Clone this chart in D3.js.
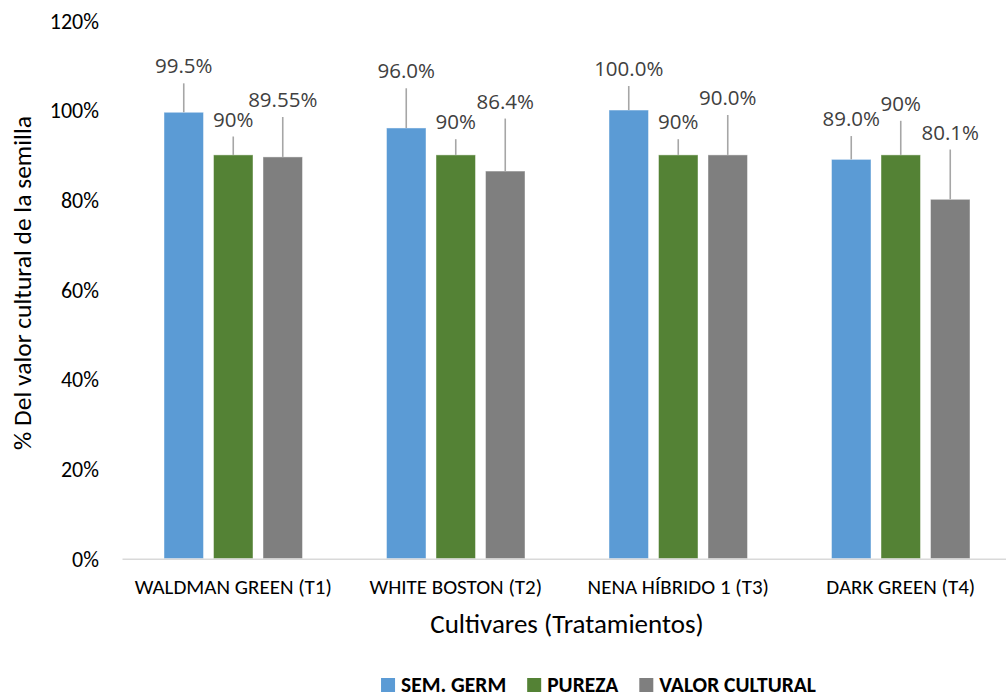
<!DOCTYPE html>
<html>
<head>
<meta charset="utf-8">
<script src="https://cdn.jsdelivr.net/npm/d3@7"></script>
<style>
  html, body { margin: 0; padding: 0; background: #fff; }
  svg { display: block; }
</style>
</head>
<body>
<svg id="chart" width="1006" height="697"></svg>
<script>
// ---- DATA ----
const categories = ["WALDMAN GREEN (T1)", "WHITE BOSTON (T2)", "NENA HÍBRIDO 1 (T3)", "DARK GREEN (T4)"];
const seriesNames = ["SEM. GERM", "PUREZA", "VALOR CULTURAL"];
const semGerm = [99.5, 96.0, 100.0, 89.0];
const pureza = [90, 90, 90, 90];
const valorCultural = [89.55, 86.4, 90.0, 80.1];
const semGermErr = [6.45, 8.85, 5.35, 5.2];
const purezaErr = [4.1, 3.5, 3.5, 7.6];
const valorCulturalErr = [8.9, 11.7, 8.9, 11.1];
const semGermLabels = ["99.5%", "96.0%", "100.0%", "89.0%"];
const purezaLabels = ["90%", "90%", "90%", "90%"];
const valorCulturalLabels = ["89.55%", "86.4%", "90.0%", "80.1%"];
const yTicks = [0, 20, 40, 60, 80, 100, 120];
const yTickLabels = ["0%", "20%", "40%", "60%", "80%", "100%", "120%"];
const colors = ["#5B9BD5", "#548235", "#7F7F7F"];

const seriesValues = [semGerm, pureza, valorCultural];
const seriesErr = [semGermErr, purezaErr, valorCulturalErr];
const seriesLabels = [semGermLabels, purezaLabels, valorCulturalLabels];

const calibri = "Carlito, Calibri, Lato, sans-serif";
const segoe = "'Segoe UI', 'Open Sans', sans-serif";

const svg = d3.select("#chart");

const plotLeft = 122, plotRight = 1012, plotTop = 20.3, plotBottom = 558.7;

const x0 = d3.scaleBand().domain(categories).range([plotLeft, plotRight]).paddingInner(0).paddingOuter(0);
const groupPad = 42;
const x1 = d3.scaleBand().domain(seriesNames)
  .range([groupPad, x0.bandwidth() - groupPad])
  .paddingInner(0.202).paddingOuter(0);
const y = d3.scaleLinear().domain([0, 120]).range([plotBottom, plotTop]);

// Y axis tick labels
const yAxis = d3.axisLeft(y).tickValues(yTicks).tickSize(0).tickPadding(0)
  .tickFormat((d, i) => yTickLabels[i]);
const yg = svg.append("g").attr("transform", `translate(99,0)`).call(yAxis);
yg.select(".domain").remove();
yg.selectAll("text").attr("font-family", calibri).attr("font-size", 22).attr("fill", "#000").attr("dy", "0.35em");

// Bars
const rows = [];
categories.forEach((c, ci) => {
  seriesNames.forEach((s, si) => {
    rows.push({cat: c, ser: s, si, v: seriesValues[si][ci], e: seriesErr[si][ci], lab: seriesLabels[si][ci]});
  });
});

const g = svg.append("g");
g.selectAll("rect.bar").data(rows).join("rect")
  .attr("class", "bar")
  .attr("x", d => x0(d.cat) + x1(d.ser))
  .attr("y", d => y(d.v))
  .attr("width", x1.bandwidth())
  .attr("height", d => y(0) - y(d.v))
  .attr("fill", d => colors[d.si])
  .attr("stroke", "#ffffff").attr("stroke-opacity", 0.45).attr("stroke-width", 1);

// X axis line
const xAxis = d3.axisBottom(x0).tickSize(0).tickFormat("");
const xg = svg.append("g").attr("transform", `translate(0,${plotBottom})`).call(xAxis);
xg.select(".domain").attr("stroke", "#d9d9d9").attr("stroke-width", 1.5);

// Error bars (plus only)
g.selectAll("line.err").data(rows).join("line")
  .attr("class", "err")
  .attr("x1", d => x0(d.cat) + x1(d.ser) + x1.bandwidth() / 2)
  .attr("x2", d => x0(d.cat) + x1(d.ser) + x1.bandwidth() / 2)
  .attr("y1", d => y(d.v))
  .attr("y2", d => y(d.v + d.e))
  .attr("stroke", "#a6a6a6").attr("stroke-width", 1.6);

// Data labels
g.selectAll("text.lab").data(rows).join("text")
  .attr("class", "lab")
  .attr("x", d => x0(d.cat) + x1(d.ser) + x1.bandwidth() / 2)
  .attr("y", d => y(d.v + d.e) - 10)
  .attr("text-anchor", "middle")
  .attr("font-family", segoe).attr("font-size", 20.5)
  .attr("fill", "#404040")
  .text(d => d.lab);

// Category labels
svg.append("g").selectAll("text").data(categories).join("text")
  .attr("x", d => x0(d) + x0.bandwidth() / 2)
  .attr("y", 594)
  .attr("text-anchor", "middle")
  .attr("font-family", calibri).attr("font-size", 21)
  .attr("fill", "#000")
  .text(d => d);

// Axis titles
svg.append("text")
  .attr("x", 567).attr("y", 633)
  .attr("text-anchor", "middle")
  .attr("font-family", calibri).attr("font-size", 27)
  .attr("fill", "#000")
  .text("Cultivares (Tratamientos)");

svg.append("text")
  .attr("transform", "translate(31,283) rotate(-90)")
  .attr("text-anchor", "middle")
  .attr("font-family", calibri).attr("font-size", 25.5)
  .attr("fill", "#000")
  .text("% Del valor cultural de la semilla");

// Legend
const leg = svg.append("g");
const sq = 14, gapText = 6, gapItem = 21;
let cx = 0;
seriesNames.forEach((s, i) => {
  const it = leg.append("g");
  it.append("rect").attr("x", 0).attr("y", -14).attr("width", sq).attr("height", sq).attr("fill", colors[i]);
  const t = it.append("text").attr("x", sq + gapText).attr("y", 0)
    .attr("font-family", calibri).attr("font-weight", "bold").attr("font-size", 21.5)
    .attr("fill", "#000").text(s);
  it.attr("transform", `translate(${cx},0)`);
  cx += sq + gapText + t.node().getComputedTextLength() + gapItem;
});
const legW = cx - gapItem;
leg.attr("transform", `translate(${598.5 - legW / 2},692)`);
</script>
</body>
</html>
